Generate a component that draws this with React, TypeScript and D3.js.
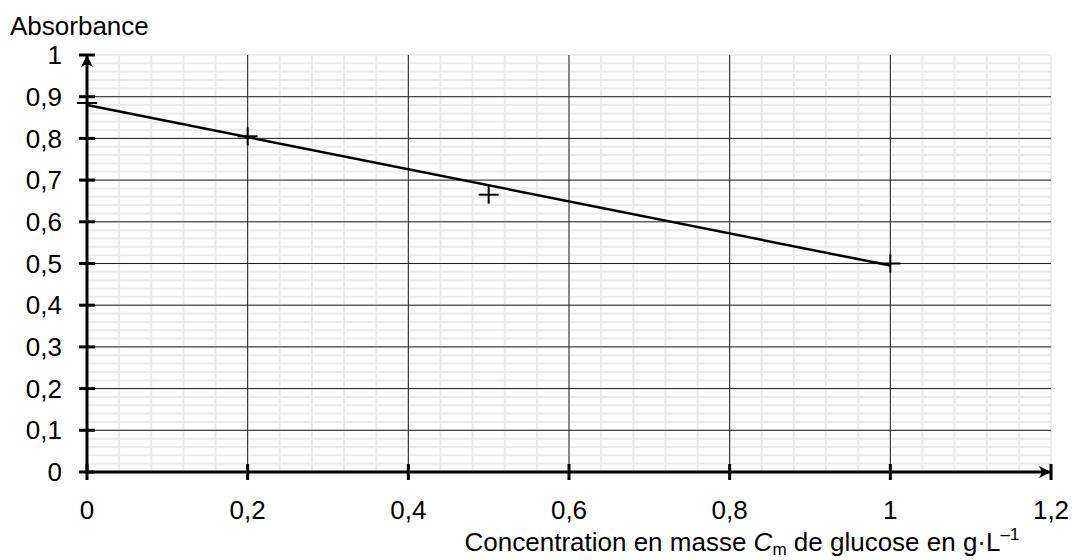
import React from 'react';
import * as d3 from 'd3';

// measured points (concentration g/L, absorbance)
const concentrations = [0, 0.2, 0.5, 1];
const absorbances = [0.885, 0.805, 0.665, 0.5];

// fitted line endpoints
const fitX = [0, 1];
const fitY = [0.88, 0.495];

const xTicks = [0, 0.2, 0.4, 0.6, 0.8, 1, 1.2];
const yTicks = [0, 0.1, 0.2, 0.3, 0.4, 0.5, 0.6, 0.7, 0.8, 0.9, 1];

const W = 1072;
const H = 560;
const FONT = '"Liberation Sans", Arial, sans-serif';

const fmt = (v: number) => String(Math.round(v * 10) / 10).replace('.', ',');

const App: React.FC = () => {
  const x = d3.scaleLinear().domain([0, 1.2]).range([87, 1051]);
  const y = d3.scaleLinear().domain([0, 1]).range([472, 55]);

  const minorX = d3.range(0, 1.2001, 0.04);
  const minorY = d3.range(0, 1.0001, 0.02);

  const line = d3.line<number>()
    .x((_, i) => x(fitX[i]))
    .y(d => y(d));

  return (
    <div style={{ position: 'absolute', left: 0, top: 0 }}>
      <svg width={W} height={H} style={{ display: 'block', background: '#fff' }} fontFamily={FONT}>
        <defs>
          <marker id="arr" viewBox="0 0 12 12" refX="11" refY="6" markerWidth="12" markerHeight="12" markerUnits="userSpaceOnUse" orient="auto">
            <path d="M0,0 L12,6 L0,12 L3,6 Z" fill="#000" />
          </marker>
        </defs>

        {/* minor grid */}
        <g stroke="#ebebeb" strokeWidth={2}>
          {minorX.map((v, i) => (
            <line key={'mx' + i} x1={x(v)} x2={x(v)} y1={y(0)} y2={y(1)} />
          ))}
          {minorY.map((v, i) => (
            <line key={'my' + i} x1={x(0)} x2={x(1.2)} y1={y(v)} y2={y(v)} />
          ))}
        </g>

        {/* major grid */}
        <g stroke="#222" strokeWidth={1}>
          {xTicks.slice(1, -1).map(v => (
            <line key={'gx' + v} x1={x(v)} x2={x(v)} y1={y(0)} y2={y(1)} />
          ))}
          {yTicks.slice(1, -1).map(v => (
            <line key={'gy' + v} x1={x(0)} x2={x(1.2)} y1={y(v)} y2={y(v)} />
          ))}
        </g>

        {/* axes */}
        <line x1={x(0)} x2={x(0)} y1={y(0)} y2={y(1) + 1} stroke="#000" strokeWidth={3} markerEnd="url(#arr)" />
        <line x1={x(0)} x2={x(1.2) - 1} y1={y(0)} y2={y(0)} stroke="#000" strokeWidth={3} markerEnd="url(#arr)" />
        <line x1={x(0) - 8} x2={x(0) + 8} y1={y(1)} y2={y(1)} stroke="#000" strokeWidth={3} />
        <line x1={x(1.2)} x2={x(1.2)} y1={y(0) - 8} y2={y(0) + 8} stroke="#000" strokeWidth={3} />

        {/* ticks */}
        <g stroke="#000" strokeWidth={3}>
          {yTicks.slice(0, -1).map(v => (
            <line key={'ty' + v} x1={x(0) - 8} x2={x(0) + 8} y1={y(v)} y2={y(v)} />
          ))}
          {xTicks.slice(0, -1).map(v => (
            <line key={'tx' + v} x1={x(v)} x2={x(v)} y1={y(0) - 8} y2={y(0) + 8} />
          ))}
        </g>

        {/* tick labels */}
        <g fontSize={26} fill="#000">
          {yTicks.map(v => (
            <text key={'ly' + v} x={x(0) - 25} y={y(v)} dy="0.35em" textAnchor="end">{fmt(v)}</text>
          ))}
          {xTicks.map(v => (
            <text key={'lx' + v} x={x(v)} y={y(0) + 47} textAnchor="middle">{fmt(v)}</text>
          ))}
        </g>

        {/* fit line */}
        <path d={line(fitY) || ''} fill="none" stroke="#000" strokeWidth={2.5} />

        {/* data crosses */}
        <g stroke="#000" strokeWidth={2}>
          {concentrations.map((c, i) => (
            <g key={'p' + i}>
              <line x1={x(c) - 10} x2={x(c) + 10} y1={y(absorbances[i])} y2={y(absorbances[i])} />
              <line x1={x(c)} x2={x(c)} y1={y(absorbances[i]) - 9} y2={y(absorbances[i]) + 9} />
            </g>
          ))}
        </g>

        {/* axis titles */}
        <text x={10} y={35} fontSize={26}>Absorbance</text>
        <text x={742} y={551} fontSize={26} textAnchor="middle">
          Concentration en masse  <tspan fontStyle="italic">C</tspan>
          <tspan fontSize={17} dy={4}>m</tspan>
          <tspan dy={-4}> de glucose en g·L</tspan>
          <tspan fontSize={17} dy={-11}>–1</tspan>
        </text>
      </svg>
    </div>
  );
};

export default App;
